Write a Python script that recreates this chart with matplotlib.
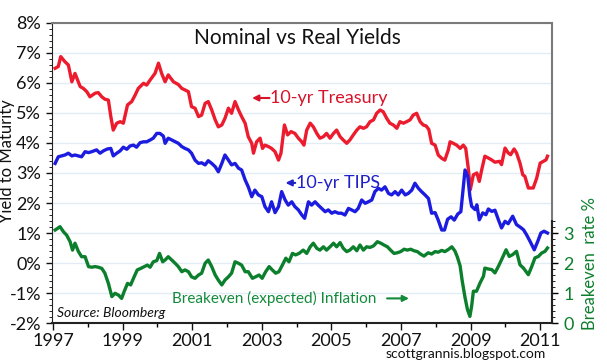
import matplotlib
matplotlib.use("Agg")
import matplotlib.pyplot as plt
from matplotlib.ticker import MultipleLocator, FixedLocator

plt.rcParams['font.family'] = ['Lato', 'DejaVu Sans']

# 10-yr Treasury yield, %
red_years = [1997.06, 1997.15, 1997.22, 1997.34, 1997.44, 1997.54, 1997.63, 1997.78, 1997.87, 1997.97,
             1998.06, 1998.21, 1998.30, 1998.40, 1998.49, 1998.59, 1998.66, 1998.73, 1998.83, 1998.93,
             1999.02, 1999.14, 1999.26, 1999.36, 1999.45, 1999.60, 1999.69, 1999.79, 1999.93, 2000.03,
             2000.12, 2000.22, 2000.31, 2000.46, 2000.60, 2000.70, 2000.79, 2000.89, 2000.98, 2001.08,
             2001.18, 2001.27, 2001.37, 2001.46, 2001.56, 2001.66, 2001.75, 2001.85, 2001.94, 2002.04,
             2002.13, 2002.23, 2002.33, 2002.42, 2002.52, 2002.61, 2002.71, 2002.76, 2002.85, 2002.95,
             2003.02, 2003.09, 2003.19, 2003.28, 2003.38, 2003.48, 2003.55, 2003.65, 2003.74, 2003.84,
             2003.95, 2004.05, 2004.14, 2004.21, 2004.29, 2004.39, 2004.48, 2004.58, 2004.67, 2004.77,
             2004.86, 2004.96, 2005.06, 2005.15, 2005.25, 2005.34, 2005.44, 2005.53, 2005.63, 2005.73,
             2005.82, 2005.92, 2006.01, 2006.11, 2006.21, 2006.30, 2006.40, 2006.49, 2006.59, 2006.68,
             2006.78, 2006.88, 2006.97, 2007.07, 2007.16, 2007.26, 2007.35, 2007.45, 2007.55, 2007.64,
             2007.72, 2007.80, 2007.88, 2007.98, 2008.07, 2008.17, 2008.26, 2008.36, 2008.41, 2008.50,
             2008.60, 2008.70, 2008.79, 2008.86, 2008.94, 2008.99, 2009.08, 2009.18, 2009.25, 2009.32,
             2009.41, 2009.51, 2009.60, 2009.70, 2009.83, 2009.89, 2009.99, 2010.08, 2010.15, 2010.25,
             2010.32, 2010.42, 2010.50, 2010.56, 2010.66, 2010.80, 2010.90, 2011.00, 2011.09, 2011.17,
             2011.21]
red_vals = [6.49, 6.55, 6.88, 6.71, 6.60, 6.04, 6.32, 5.88, 5.82, 5.71,
            5.54, 5.66, 5.68, 5.54, 5.46, 5.43, 4.88, 4.43, 4.66, 4.71,
            4.66, 5.27, 5.38, 5.60, 5.82, 5.99, 5.93, 6.10, 6.32, 6.66,
            6.32, 6.04, 6.27, 6.04, 5.95, 5.82, 5.77, 5.71, 5.21, 5.16,
            4.88, 4.93, 5.32, 5.38, 5.10, 4.77, 4.54, 4.60, 4.82, 5.16,
            4.99, 5.38, 5.10, 4.88, 4.66, 4.21, 3.99, 3.66, 4.04, 4.16,
            3.82, 3.93, 3.88, 3.82, 3.71, 3.43, 3.66, 4.60, 4.27, 4.38,
            4.32, 4.16, 4.05, 3.93, 4.43, 4.66, 4.54, 4.32, 4.16, 4.21,
            4.32, 4.16, 4.32, 4.43, 4.21, 4.10, 3.99, 4.10, 4.27, 4.43,
            4.54, 4.49, 4.54, 4.71, 4.77, 4.99, 5.10, 5.04, 4.82, 4.66,
            4.60, 4.49, 4.71, 4.66, 4.71, 4.77, 4.93, 4.99, 4.71, 4.60,
            4.57, 4.45, 3.99, 3.93, 3.60, 3.49, 3.43, 3.77, 4.04, 3.99,
            3.93, 3.82, 3.93, 3.82, 3.10, 2.44, 2.94, 3.00, 2.72, 3.11,
            3.56, 3.50, 3.44, 3.36, 3.39, 3.28, 3.83, 3.67, 3.61, 3.80,
            3.67, 3.33, 2.94, 2.89, 2.50, 2.50, 2.83, 3.33, 3.39, 3.44,
            3.56]

# 10-yr TIPS real yield, %
blue_years = [1997.06, 1997.15, 1997.25, 1997.34, 1997.44, 1997.54, 1997.63, 1997.73, 1997.82, 1997.92,
              1998.02, 1998.11, 1998.25, 1998.35, 1998.45, 1998.56, 1998.66, 1998.73, 1998.83, 1998.93,
              1999.02, 1999.12, 1999.21, 1999.31, 1999.40, 1999.50, 1999.60, 1999.69, 1999.79, 1999.88,
              1999.98, 2000.07, 2000.17, 2000.22, 2000.31, 2000.41, 2000.51, 2000.60, 2000.70, 2000.79,
              2000.89, 2000.98, 2001.08, 2001.18, 2001.27, 2001.37, 2001.46, 2001.56, 2001.66, 2001.75,
              2001.85, 2001.94, 2002.04, 2002.13, 2002.23, 2002.33, 2002.42, 2002.52, 2002.61, 2002.71,
              2002.80, 2002.90, 2003.00, 2003.09, 2003.19, 2003.28, 2003.38, 2003.48, 2003.57, 2003.67,
              2003.76, 2003.86, 2003.95, 2004.05, 2004.15, 2004.23, 2004.34, 2004.43, 2004.53, 2004.62,
              2004.72, 2004.82, 2004.91, 2005.01, 2005.10, 2005.20, 2005.29, 2005.39, 2005.49, 2005.58,
              2005.68, 2005.77, 2005.87, 2005.97, 2006.06, 2006.16, 2006.25, 2006.35, 2006.44, 2006.54,
              2006.64, 2006.73, 2006.83, 2006.92, 2007.02, 2007.12, 2007.21, 2007.31, 2007.40, 2007.50,
              2007.59, 2007.69, 2007.79, 2007.88, 2007.98, 2008.07, 2008.17, 2008.25, 2008.34, 2008.44,
              2008.53, 2008.63, 2008.72, 2008.79, 2008.84, 2008.92, 2008.98, 2009.03, 2009.13, 2009.18,
              2009.25, 2009.35, 2009.44, 2009.51, 2009.61, 2009.70, 2009.80, 2009.89, 2009.99, 2010.08,
              2010.21, 2010.32, 2010.42, 2010.52, 2010.61, 2010.71, 2010.83, 2010.93, 2011.02, 2011.11,
              2011.21]
blue_vals = [3.32, 3.54, 3.57, 3.60, 3.66, 3.57, 3.60, 3.57, 3.54, 3.71,
             3.68, 3.71, 3.77, 3.66, 3.74, 3.80, 3.82, 3.57, 3.66, 3.74,
             3.86, 3.79, 3.90, 3.93, 3.86, 4.01, 4.04, 4.04, 4.10, 4.16,
             4.32, 4.32, 4.23, 3.99, 4.16, 4.10, 4.04, 3.99, 3.88, 3.82,
             3.77, 3.66, 3.43, 3.32, 3.34, 3.27, 3.41, 3.32, 3.21, 3.04,
             3.32, 3.60, 3.43, 3.27, 3.32, 3.16, 3.10, 2.77, 2.54, 2.21,
             2.43, 2.27, 2.21, 1.88, 1.71, 2.04, 1.68, 1.88, 2.38, 2.10,
             1.93, 2.04, 1.88, 1.77, 1.60, 1.49, 2.04, 1.93, 2.04, 1.93,
             1.82, 1.71, 1.77, 1.66, 1.71, 1.66, 1.66, 1.60, 1.82, 1.77,
             1.71, 1.82, 2.10, 1.99, 2.04, 2.10, 2.38, 2.49, 2.43, 2.54,
             2.32, 2.27, 2.38, 2.27, 2.43, 2.27, 2.32, 2.43, 2.66, 2.49,
             2.38, 2.27, 2.15, 1.66, 1.68, 1.43, 1.10, 1.10, 1.46, 1.54,
             1.43, 1.63, 1.71, 2.54, 3.10, 2.88, 2.22, 1.89, 1.78, 1.94,
             1.44, 1.67, 1.61, 1.80, 1.72, 1.76, 1.44, 1.17, 1.39, 1.31,
             1.56, 1.28, 1.20, 1.11, 0.94, 0.72, 0.44, 0.72, 1.00, 1.06,
             1.00]

# Breakeven inflation rate, % (right axis)
green_years = [1997.06, 1997.20, 1997.30, 1997.39, 1997.49, 1997.56, 1997.63, 1997.73, 1997.82, 1997.92,
               1998.02, 1998.11, 1998.21, 1998.30, 1998.40, 1998.49, 1998.59, 1998.69, 1998.78, 1998.88,
               1998.97, 1999.04, 1999.14, 1999.23, 1999.33, 1999.42, 1999.52, 1999.62, 1999.71, 1999.79,
               1999.88, 1999.98, 2000.06, 2000.15, 2000.22, 2000.31, 2000.41, 2000.51, 2000.60, 2000.70,
               2000.79, 2000.89, 2000.98, 2001.08, 2001.18, 2001.27, 2001.37, 2001.46, 2001.56, 2001.66,
               2001.75, 2001.85, 2001.94, 2002.04, 2002.13, 2002.23, 2002.33, 2002.42, 2002.52, 2002.61,
               2002.73, 2002.82, 2002.92, 2003.01, 2003.11, 2003.21, 2003.30, 2003.40, 2003.49, 2003.59,
               2003.69, 2003.78, 2003.88, 2003.97, 2004.07, 2004.19, 2004.29, 2004.39, 2004.48, 2004.58,
               2004.67, 2004.77, 2004.86, 2004.96, 2005.06, 2005.15, 2005.25, 2005.34, 2005.44, 2005.53,
               2005.63, 2005.73, 2005.82, 2005.92, 2006.01, 2006.11, 2006.21, 2006.32, 2006.42, 2006.51,
               2006.61, 2006.70, 2006.80, 2006.89, 2006.99, 2007.09, 2007.18, 2007.28, 2007.37, 2007.47,
               2007.56, 2007.66, 2007.78, 2007.88, 2007.98, 2008.07, 2008.17, 2008.26, 2008.36, 2008.46,
               2008.55, 2008.62, 2008.70, 2008.76, 2008.84, 2008.91, 2008.98, 2009.03, 2009.08, 2009.17,
               2009.27, 2009.37, 2009.41, 2009.51, 2009.61, 2009.70, 2009.80, 2009.89, 2010.02, 2010.11,
               2010.21, 2010.32, 2010.42, 2010.52, 2010.66, 2010.76, 2010.85, 2010.95, 2011.04, 2011.14,
               2011.21]
green_vals = [3.10, 3.21, 3.04, 2.93, 2.71, 2.43, 2.66, 2.38, 2.21, 2.21,
              1.88, 1.86, 1.88, 1.86, 1.82, 1.66, 1.32, 0.88, 0.99, 0.93,
              0.82, 1.04, 1.32, 1.27, 1.54, 1.77, 1.82, 1.88, 1.93, 1.86,
              2.04, 2.08, 2.32, 2.04, 2.10, 2.21, 2.10, 1.99, 1.88, 1.71,
              1.77, 1.71, 1.54, 1.49, 1.60, 1.66, 1.99, 2.10, 1.88, 1.60,
              1.43, 1.27, 1.43, 1.54, 1.66, 2.04, 1.99, 1.93, 1.71, 1.71,
              1.49, 1.54, 1.60, 1.49, 1.71, 1.88, 1.77, 1.66, 1.71, 1.93,
              2.16, 2.04, 2.32, 2.27, 2.32, 2.43, 2.32, 2.54, 2.66, 2.49,
              2.43, 2.54, 2.43, 2.54, 2.66, 2.54, 2.68, 2.49, 2.38, 2.43,
              2.54, 2.41, 2.60, 2.43, 2.54, 2.52, 2.57, 2.71, 2.66, 2.60,
              2.54, 2.43, 2.32, 2.34, 2.38, 2.46, 2.43, 2.46, 2.41, 2.38,
              2.30, 2.23, 2.34, 2.30, 2.38, 2.36, 2.42, 2.38, 2.45, 2.54,
              2.40, 2.20, 1.90, 1.40, 0.85, 0.45, 0.22, 0.56, 1.06, 1.06,
              1.33, 1.56, 1.83, 1.80, 1.78, 1.67, 1.89, 2.11, 2.44, 2.22,
              2.28, 2.39, 1.94, 1.83, 1.61, 1.89, 2.17, 2.22, 2.33, 2.39,
              2.50]

year_ticks = [1997, 1999, 2001, 2003, 2005, 2007, 2009, 2011]
pct_ticks = list(range(-2, 9))
be_ticks = [0, 1, 2, 3]

RED = "#ec1c2e"
BLUE = "#1c1ce0"
GREEN = "#0c7f2c"

fig = plt.figure(figsize=(6.07, 3.62), dpi=100)
ax = fig.add_axes([0.0857, 0.1077, 0.8237, 0.8288])
ax2 = ax.twinx()

ax.set_xlim(1996.97, 2011.34)
ax.set_ylim(-2, 8)
ax2.set_ylim(0, 10)

for y in pct_ticks:
    ax.axhline(y, color="#e2ecf4", lw=1.0, zorder=0)

ax.plot(red_years, red_vals, color=RED, lw=2.4, solid_joinstyle="round", zorder=3)
ax.plot(blue_years, blue_vals, color=BLUE, lw=2.4, solid_joinstyle="round", zorder=3)
ax2.plot(green_years, green_vals, color=GREEN, lw=2.4, solid_joinstyle="round", zorder=3)

# spines
for s in ["top", "right"]:
    ax.spines[s].set_color("#7a7a7a")
    ax.spines[s].set_linewidth(1.5)
ax.spines["left"].set_color("#222222")
ax.spines["bottom"].set_color("#222222")
ax.spines["bottom"].set_linewidth(1.5)
ax2.spines["top"].set_visible(False)
ax2.spines["left"].set_visible(False)
ax2.spines["bottom"].set_visible(False)
ax2.spines["right"].set_bounds(0, 3.4)
ax2.spines["right"].set_color("#222222")
ax2.spines["right"].set_linewidth(1.5)

ax.xaxis.set_major_locator(FixedLocator(year_ticks))
ax.xaxis.set_minor_locator(MultipleLocator(1))
ax.set_xticklabels([str(y) for y in year_ticks])
ax.yaxis.set_major_locator(FixedLocator(pct_ticks))
ax.yaxis.set_minor_locator(MultipleLocator(0.2))
ax.set_yticklabels([f"{y}%" for y in pct_ticks])
ax.tick_params(axis="x", which="major", length=5, width=1, pad=2, labelsize=13, colors="#111111")
ax.tick_params(axis="x", which="minor", length=3, width=1)
ax.tick_params(axis="y", which="major", length=4, width=1, pad=4, labelsize=13, colors="#111111")
ax.tick_params(axis="y", which="minor", length=2, width=0.6)
ax.tick_params(axis="y", which="both", right=False)

ax2.yaxis.set_major_locator(FixedLocator(be_ticks))
minor_be = [i / 5 for i in range(0, 18)]
ax2.yaxis.set_minor_locator(FixedLocator(minor_be))
ax2.set_yticklabels([str(v) for v in be_ticks])
ax2.tick_params(axis="y", which="major", length=4, width=1, pad=4, labelsize=13, labelcolor=GREEN)
ax2.tick_params(axis="y", which="minor", length=2, width=0.6)

ax.set_ylabel("Yield to Maturity", fontsize=12, color="#111111")
ax.yaxis.set_label_coords(-0.075, 0.54)
ax.text(1.076, 0.2, "Breakeven  rate %", transform=ax.transAxes, rotation=90,
        ha="center", va="center", fontsize=12, color=GREEN)

ax.text(0.49, 0.95, "Nominal vs Real Yields", transform=ax.transAxes,
        ha="center", va="center", fontsize=15, color="#111111")

# series labels with arrows
ax.text(2003.24, 5.5, "10-yr Treasury", color="#d8122a", fontsize=13, va="center", ha="left")
ax.annotate("", xy=(2002.72, 5.5), xytext=(2003.22, 5.5),
            arrowprops=dict(arrowstyle="-|>", color="#d8122a", lw=1.5, mutation_scale=9,
                            shrinkA=0, shrinkB=0))
ax.text(2003.98, 2.67, "10-yr TIPS", color="#2020c8", fontsize=13, va="center", ha="left")
ax.annotate("", xy=(2003.68, 2.67), xytext=(2003.96, 2.67),
            arrowprops=dict(arrowstyle="-|>", color="#2020c8", lw=1.5, mutation_scale=9,
                            shrinkA=0, shrinkB=0))
ax.text(2000.42, -1.18, "Breakeven (expected) Inflation", color="#138a3a", fontsize=11,
        va="center", ha="left")
ax.annotate("", xy=(2007.23, -1.18), xytext=(2006.6, -1.18),
            arrowprops=dict(arrowstyle="-|>", color="#138a3a", lw=1.5, mutation_scale=9,
                            shrinkA=0, shrinkB=0))

ax.text(0.01, 0.035, "Source: Bloomberg", transform=ax.transAxes, fontsize=10,
        style="italic", color="#111111", ha="left", va="center")
fig.text(0.9, 0.022, "scottgrannis.blogspot.com", fontsize=10, color="#111111",
         ha="right", va="center")

fig.savefig("out.png", dpi=100)
